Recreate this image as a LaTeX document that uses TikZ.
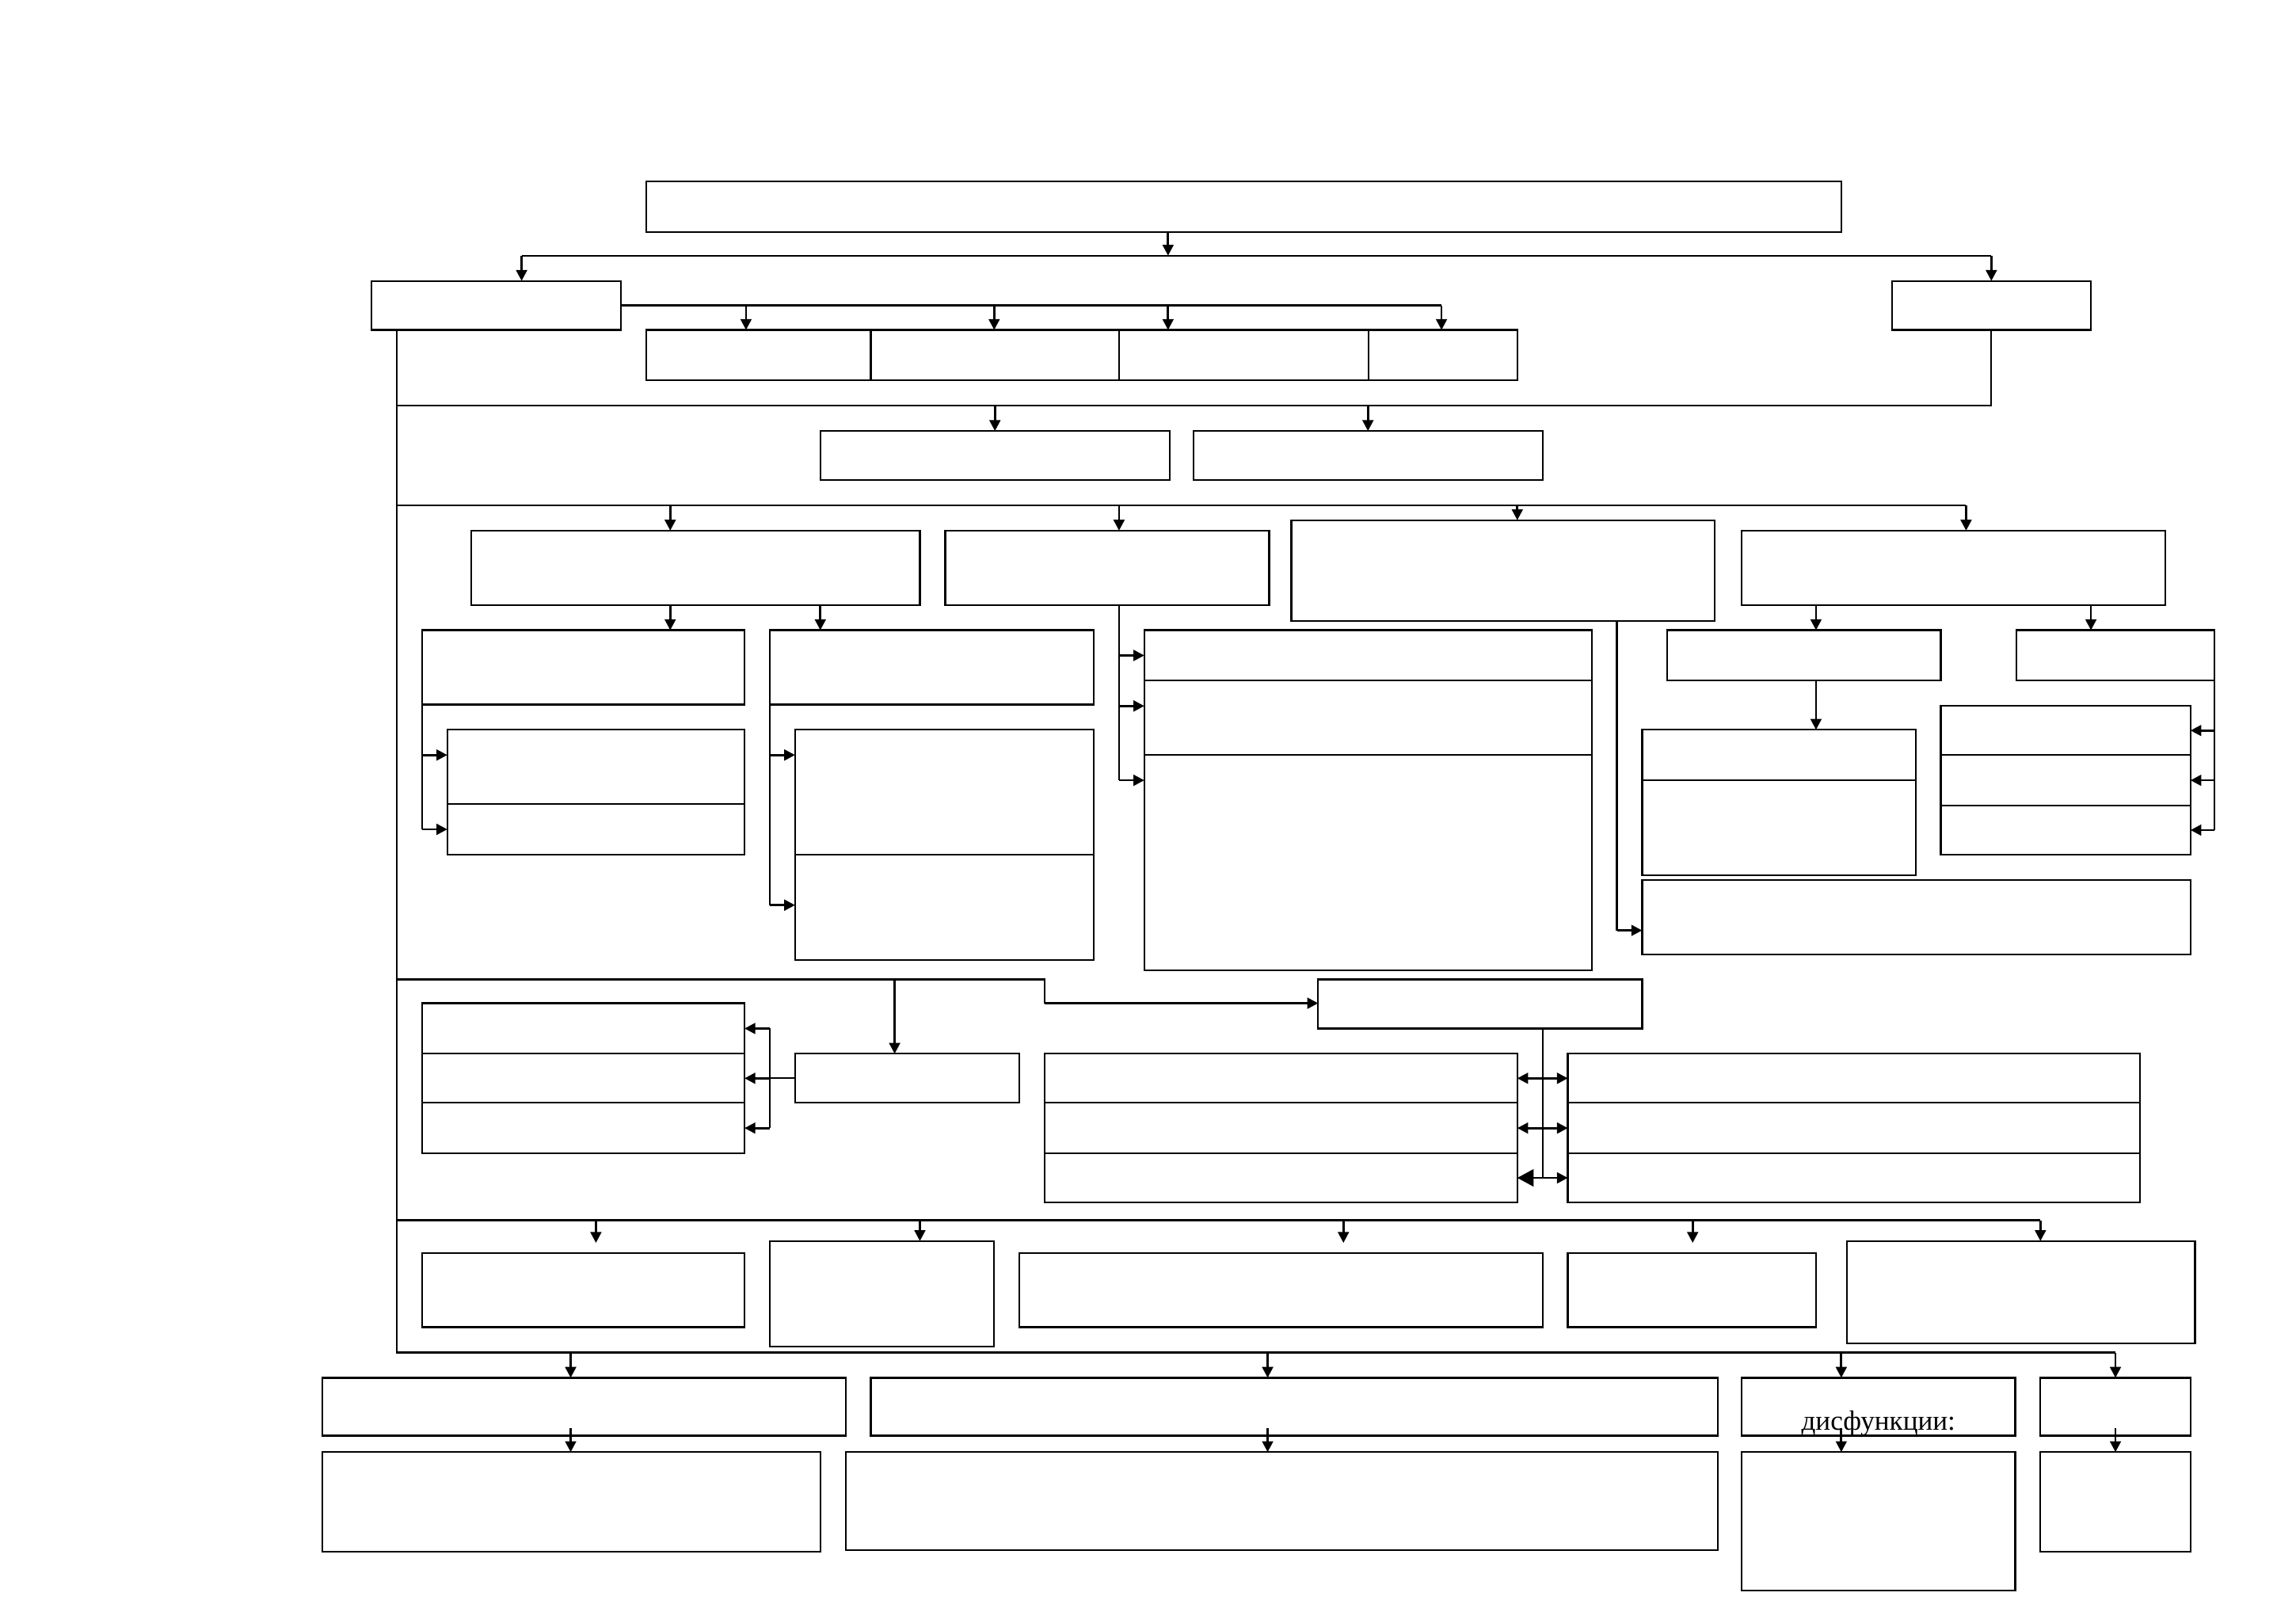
\documentclass[tikz,border=0pt]{standalone}
\usepackage{fontspec}
\setmainfont{Liberation Serif}
\usetikzlibrary{arrows.meta, fit}

\tikzset{
  blk/.style={draw, line width=0.65pt, inner sep=0pt, outer sep=0pt},
  wire/.style={line width=0.65pt},
  arr/.style={line width=0.8pt, -{Triangle[length=1.4mm, width=1.4mm]}},
  darr/.style={line width=0.8pt, {Triangle[length=1.4mm, width=1.4mm]}-{Triangle[length=1.4mm, width=1.4mm]}},
  darrbig/.style={line width=0.8pt, {Triangle[length=2.1mm, width=2.2mm]}-{Triangle[length=1.4mm, width=1.4mm]}},
}
% box from corner to corner
\newcommand{\blkat}[5]{\node[blk, fit={(#2,#3) (#4,#5)}] (#1) {};}

\begin{document}
\begin{tikzpicture}[x=0.19223mm, y=-0.19223mm]
\useasboundingbox (0,0) rectangle (1545,1092);

% Define boxes
\blkat{T}{435}{122}{1239}{156}
\blkat{L}{250}{189}{418}{222}
\blkat{R}{1273}{189}{1407}{222}
\blkat{s1}{435}{222}{586}{256}
\blkat{s2}{586}{222}{753}{256}
\blkat{s3}{753}{222}{921}{256}
\blkat{s4}{921}{222}{1021}{256}
\blkat{m1}{552}{290}{787}{323}
\blkat{m2}{803}{290}{1038}{323}
\blkat{A}{317}{357}{619}{407}
\blkat{B}{636}{357}{854}{407}
\blkat{C}{869}{350}{1154}{418}
\blkat{D}{1172}{357}{1457}{407}
\blkat{A1}{284}{424}{501}{474}
\blkat{A2}{518}{424}{736}{474}
\blkat{A1a}{301}{491}{501}{541}
\blkat{A1b}{301}{541}{501}{575}
\blkat{A2a}{535}{491}{736}{575}
\blkat{A2b}{535}{575}{736}{646}
\blkat{B1a}{770}{424}{1071}{458}
\blkat{B1b}{770}{458}{1071}{508}
\blkat{B1c}{770}{508}{1071}{653}
\blkat{C1}{1105}{592}{1474}{642}
\blkat{D1}{1122}{424}{1306}{458}
\blkat{D2}{1357}{424}{1490}{458}
\blkat{D1a}{1105}{491}{1289}{525}
\blkat{D1b}{1105}{525}{1289}{589}
\blkat{D2a}{1306}{475}{1474}{508}
\blkat{D2b}{1306}{508}{1474}{542}
\blkat{D2c}{1306}{542}{1474}{575}
\blkat{E0a}{284}{675}{501}{709}
\blkat{E0b}{284}{709}{501}{742}
\blkat{E0c}{284}{742}{501}{776}
\blkat{E1}{535}{709}{686}{742}
\blkat{E2}{887}{659}{1105}{692}
\blkat{F1a}{703}{709}{1021}{742}
\blkat{F1b}{703}{742}{1021}{776}
\blkat{F1c}{703}{776}{1021}{809}
\blkat{F2a}{1055}{709}{1440}{742}
\blkat{F2b}{1055}{742}{1440}{776}
\blkat{F2c}{1055}{776}{1440}{809}
\blkat{G1}{284}{843}{501}{893}
\blkat{G2}{518}{835}{669}{906}
\blkat{G3}{686}{843}{1038}{893}
\blkat{G4}{1055}{843}{1222}{893}
\blkat{G5}{1243}{835}{1477}{904}
\blkat{H1}{217}{927}{569}{966}
\blkat{H2}{586}{927}{1156}{966}
\blkat{H3}{1172}{927}{1356}{966}
\blkat{H4}{1373}{927}{1474}{966}
\blkat{K1}{217}{977}{552}{1044}
\blkat{K2}{569}{977}{1156}{1043}
\blkat{K3}{1172}{977}{1356}{1070}
\blkat{K4}{1373}{977}{1474}{1044}

% Add label
\node[anchor=base, inner sep=0pt, font=\fontsize{10.25}{12}\selectfont] (H3t) at (1264,962) {дисфункции:};

% Draw trunk line
\coordinate (trunk) at (267,910);
\draw[wire] (L.south -| trunk) -- (trunk) -- (trunk -| H4.north);

% Top level
\draw[arr] (T.south -| 786,0) -- (786,172);
\draw[wire] (351,172) -- (R.north |- 0,172);
\draw[arr] (351,172) -- (L.north -| 351,0);
\draw[arr] (R.north |- 0,172) -- (R.north);
\draw[wire] (L.east) -- (970,205.5);
\foreach \n/\x in {s1/502, s2/669, s3/786, s4/970}
  \draw[arr] (\x,205.5) -- (\n.north -| \x,0);
\draw[wire] (R.south) |- (267,273);
\foreach \n in {m1, m2}
  \draw[arr] (\n.north |- 0,273) -- (\n.north);

% Second level
\draw[wire] (267,340) -- (1323,340);
\foreach \n/\x in {A/451, B/753, C/1021, D/1323}
  \draw[arr] (\x,340) -- (\n.north -| \x,0);
\foreach \n/\x in {A1/451, A2/552}
  \draw[arr] (A.south -| \x,0) -- (\n.north -| \x,0);
\draw[wire] (A1.south west) -- (A1.west |- 0,558);
\foreach \n/\y in {A1a/508, A1b/558}
  \draw[arr] (A1.west |- 0,\y) -- (\n.west |- 0,\y);
\draw[wire] (A2.south west) -- (A2.west |- 0,609);
\foreach \n/\y in {A2a/508, A2b/609}
  \draw[arr] (A2.west |- 0,\y) -- (\n.west |- 0,\y);
\draw[wire] (B.south -| 753,0) -- (753,525);
\foreach \n/\y in {B1a/441, B1b/475, B1c/525}
  \draw[arr] (753,\y) -- (\n.west |- 0,\y);
\draw[wire] (C.south -| 1088,0) -- (1088,626);
\draw[arr] (1088,626) -- (C1.west |- 0,626);
\draw[arr] (D.south -| 1222,0) -- (D1.north -| 1222,0);
\draw[arr] (D.south -| 1407,0) -- (D2.north -| 1407,0);
\draw[arr] (D1.south -| 1222,0) -- (D1a.north -| 1222,0);
\draw[wire] (D2.south east) -- (D2.east |- D2c.east);
\foreach \n in {D2a, D2b, D2c}
  \draw[arr] (D2.east |- \n.east) -- (\n.east);

% Third level
\draw[wire] (267,659) -| (703,675);
\draw[arr] (703,675) -- (E2.west |- 0,675);
\draw[arr] (602,659) -- (E1.north -| 602,0);
\draw[wire] (E1.west) -- (E0b.east -| 518,0);
\draw[wire] (E0a.east -| 518,0) -- (E0c.east -| 518,0);
\foreach \n in {E0a, E0b, E0c}
  \draw[arr] (\n.east -| 518,0) -- (\n.east);
\draw[wire] (E2.south -| 1038,0) -- (1038,793);
\foreach \n/\m in {F1a/F2a, F1b/F2b}
  \draw[darr] (\n.east) -- (\m.west);
\draw[darrbig] (F1c.east) -- (F2c.west);

% Fourth level
\draw[wire] (267,821) -- (1373,821);
\foreach \n/\x/\s in {G1/401/1.3mm, G2/619/0mm, G3/904/1.3mm, G4/1139/1.3mm, G5/1373/0mm}
  \draw[arr, shorten >=\s] (\x,821) -- (\n.north -| \x,0);

% Bottom rows
\foreach \n/\x in {H1/384, H2/853, H3/1239, H4/1423.5}
  \draw[arr] (\x,910) -- (\n.north -| \x,0);
\foreach \n/\x in {K1/384, K2/853, K3/1239, K4/1423.5}
  \draw[arr] (\x,961) -- (\n.north -| \x,0);
\end{tikzpicture}
\end{document}
